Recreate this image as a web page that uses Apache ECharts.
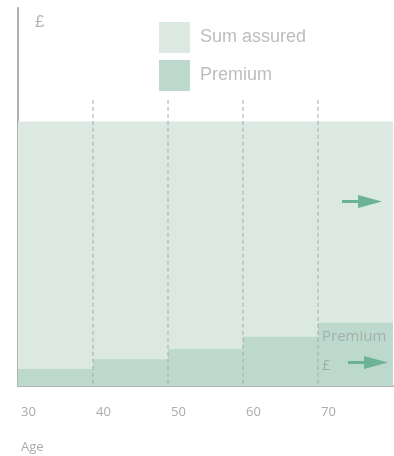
<!DOCTYPE html>
<html>
<head>
<meta charset="utf-8">
<script src="https://cdn.jsdelivr.net/npm/echarts@6/dist/echarts.min.js"></script>
<style>
  html, body { margin: 0; padding: 0; background: #fff; }
  #chart { width: 394px; height: 456px; }
</style>
</head>
<body>
<div id="chart"></div>
<script>
// Age bands (start, end) and the premium paid in each band (relative units)
const bandStarts = [30, 40, 50, 60, 70];
const bandEnds = [40, 50, 60, 70, 80];
const premium = [4.5, 7.1, 9.8, 13.0, 16.7];
// Level cover across the whole term (relative units)
const sumAssured = [70];
const coverStart = 30;
const coverEnd = 80;
// Age tick labels shown on the axis
const ageTicks = [30, 40, 50, 60, 70];
// Band boundaries marked with dashed guides
const guideAges = [40, 50, 60, 70];
const guideTop = 75.7;

const COL_SUM = '#dbe9e2';
const COL_PREM = '#bdd9ce';
const COL_ARROW = '#6cb396';
const COL_AXIS = '#b3b3b3';
const COL_TEXT = '#ababab';

const chart = echarts.init(document.getElementById('chart'), null, { renderer: 'canvas' });

function rectItem(x0, x1, y, color, api) {
  const p0 = api.coord([x0, y]);
  const p1 = api.coord([x1, 0]);
  return {
    type: 'rect',
    shape: { x: p0[0], y: p0[1], width: p1[0] - p0[0], height: p1[1] - p0[1] },
    style: { fill: color }
  };
}

function arrow(left, top) {
  return {
    type: 'group', left: left, top: top, z: 20,
    children: [
      { type: 'rect', z: 20, shape: { x: 0, y: 5, width: 18, height: 3 }, style: { fill: COL_ARROW } },
      { type: 'polygon', z: 20, shape: { points: [[16, 0], [40, 6.5], [16, 13]] }, style: { fill: COL_ARROW } }
    ]
  };
}

chart.setOption({
  animation: false,
  grid: { left: 18, right: 1, top: 8, bottom: 70 },
  legend: {
    orient: 'vertical',
    left: 159,
    top: 22,
    padding: 0,
    itemWidth: 31,
    itemHeight: 31,
    itemGap: 7,
    icon: 'rect',
    selectedMode: false,
    textStyle: {
      fontFamily: 'Liberation Sans, Arial, sans-serif',
      fontSize: 18,
      color: '#bdbdbd',
      padding: [0, 0, 0, 5]
    },
    data: ['Sum assured', 'Premium']
  },
  xAxis: {
    type: 'value',
    min: 30,
    max: 80,
    interval: 10,
    axisLine: { show: true, onZero: false, lineStyle: { color: COL_AXIS, width: 2 } },
    axisTick: { show: false },
    splitLine: { show: false },
    axisLabel: {
      showMaxLabel: false,
      align: 'left',
      margin: 20,
      padding: [0, 0, 0, 3],
      fontFamily: 'Open Sans, sans-serif',
      fontSize: 13,
      color: COL_TEXT,
      formatter: v => (ageTicks.indexOf(v) >= 0 ? String(v) : '')
    }
  },
  yAxis: {
    type: 'value',
    min: 0,
    max: 100,
    axisLine: { show: true, lineStyle: { color: COL_AXIS, width: 2 } },
    axisTick: { show: false },
    axisLabel: { show: false },
    splitLine: { show: false }
  },
  series: [
    {
      name: 'Sum assured',
      type: 'custom',
      itemStyle: { color: COL_SUM },
      data: sumAssured.map(v => [coverStart, coverEnd, v]),
      renderItem: (params, api) =>
        rectItem(api.value(0), api.value(1), api.value(2), COL_SUM, api),
      z: 1
    },
    {
      name: 'Premium',
      type: 'custom',
      itemStyle: { color: COL_PREM },
      data: bandStarts.map((s, i) => [s, bandEnds[i], premium[i]]),
      renderItem: (params, api) =>
        rectItem(api.value(0), api.value(1), api.value(2), COL_PREM, api),
      z: 2
    },
    {
      name: 'guides',
      type: 'custom',
      silent: true,
      data: guideAges.map(a => [a]),
      renderItem: (params, api) => {
        const top = api.coord([api.value(0), guideTop]);
        const bot = api.coord([api.value(0), 0]);
        return {
          type: 'line',
          shape: { x1: top[0], y1: top[1], x2: bot[0], y2: bot[1] },
          style: { stroke: '#a9a9a9', lineWidth: 1, lineDash: [4, 3] }
        };
      },
      z: 3
    }
  ],
  graphic: [
    {
      type: 'text', left: 35, top: 14, z: 20,
      style: { text: '£', font: '300 17px "Liberation Sans", Arial, sans-serif', fill: '#b5b5b5' }
    },
    {
      type: 'text', left: 21, top: 441, z: 20,
      style: { text: 'Age', font: '13px "Open Sans", sans-serif', fill: COL_TEXT }
    },
    {
      type: 'text', left: 322, top: 329, z: 20,
      style: { text: 'Premium', font: '15px "Open Sans", sans-serif', fill: '#a4aeaa' }
    },
    {
      type: 'text', left: 322, top: 358, z: 20,
      style: { text: '£', font: '15px "Open Sans", sans-serif', fill: '#a4aeaa' }
    },
    // arrow in the cover area
    arrow(342, 195),
    // arrow in the premium area
    arrow(348, 356)
  ]
});
</script>
</body>
</html>
